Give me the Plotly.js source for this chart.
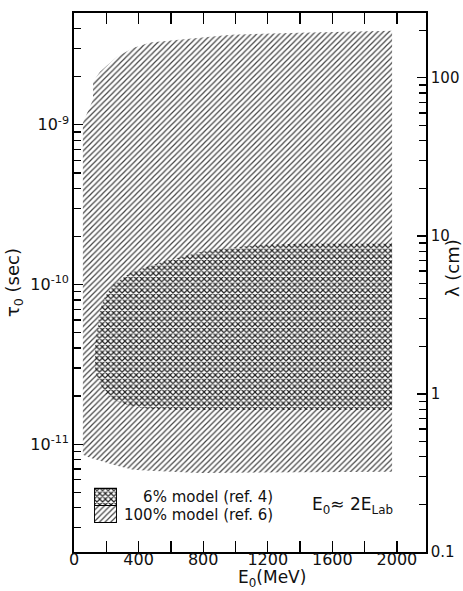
<!DOCTYPE html>
<html>
<head>
<meta charset="utf-8">
<script src="https://cdn.plot.ly/plotly-3.0.1.min.js"></script>
<style>html,body{margin:0;padding:0;background:#fff;}#chart{width:463px;height:591px;}</style>
</head>
<body>
<div id="chart"></div>
<script>
// 100% model (ref. 6) region outline: E0 (MeV) and tau0 (sec)
const hundredE   = [55, 118, 118, 161, 266, 366, 471, 781, 973, 1400, 1970, 1970, 973, 781, 471, 366, 266, 161, 99, 55];
const hundredTau = [1.03e-9, 1.44e-9, 1.86e-9, 2.15e-9, 2.67e-9, 3.03e-9, 3.27e-9, 3.51e-9, 3.66e-9, 3.77e-9, 3.88e-9,
                    6.71e-12, 6.61e-12, 6.61e-12, 6.81e-12, 6.92e-12, 7.33e-12, 7.87e-12, 8.22e-12, 8.59e-12];
// 6% model (ref. 4) region outline
const sixE   = [1970, 1400, 1153, 973, 781, 657, 552, 452, 347, 242, 192, 161, 143, 130, 130, 149, 192, 242, 347, 452, 657, 1970];
const sixTau = [1.80e-10, 1.80e-10, 1.77e-10, 1.70e-10, 1.60e-10, 1.49e-10, 1.39e-10, 1.29e-10, 1.18e-10, 9.95e-11, 8.37e-11,
                6.95e-11, 5.20e-11, 4.07e-11, 2.92e-11, 2.53e-11, 2.10e-11, 1.90e-11, 1.74e-11, 1.67e-11, 1.64e-11, 1.64e-11];

const seriesNames = ['\u2007\u20076% model (ref. 4)', '100% model (ref. 6)'];
const legendKeySize = [1, 1];   // unit height of each key box in the legend inset
const xTickVals = [0, 400, 800, 1200, 1600, 2000];
const xTickText = ['0', '400', '800', '1200', '1600', '2000'];
const tauTickVals = [1e-11, 1e-10, 1e-9];
const tauTickText = ['10<sup>-11</sup>', '10<sup>-10</sup>', '10<sup>-9</sup>'];
const lambdaTickVals = [0.1, 1, 10, 100];
const lambdaTickText = ['0.1', '1', '10', '100'];

const FONT = 'DejaVu Sans, sans-serif';
const TXT = '#111';
const diagPattern = {shape: '/', size: 4, solidity: 0.3, fgcolor: '#444', bgcolor: '#ffffff'};
const crossPattern = {shape: 'x', size: 4, solidity: 0.5, fgcolor: '#222', bgcolor: '#ffffff'};

function minorLog(lo, hi) {
  const v = [];
  for (let d = lo; d <= hi; d++) for (let m = 2; m <= 9; m++) v.push(m * Math.pow(10, d));
  return v;
}

const traces = [
  {type: 'scatter', x: hundredE, y: hundredTau, fill: 'toself', mode: 'lines', name: seriesNames[1],
   line: {width: 0, color: 'rgba(0,0,0,0)'}, fillcolor: '#ffffff', fillpattern: diagPattern,
   showlegend: false, hoverinfo: 'skip'},
  {type: 'scatter', x: sixE, y: sixTau, fill: 'toself', mode: 'lines', name: seriesNames[0],
   line: {width: 0, color: 'rgba(0,0,0,0)'}, fillcolor: '#ffffff', fillpattern: crossPattern,
   showlegend: false, hoverinfo: 'skip'},
  // legend key boxes (stacked, in a small inset axis)
  {type: 'bar', x: [0], y: [legendKeySize[1]], xaxis: 'x3', yaxis: 'y3', width: 1, showlegend: false, hoverinfo: 'skip',
   marker: {color: '#ffffff', pattern: diagPattern, line: {color: '#000', width: 1.6}}},
  {type: 'bar', x: [0], y: [legendKeySize[0]], xaxis: 'x3', yaxis: 'y3', width: 1, showlegend: false, hoverinfo: 'skip',
   marker: {color: '#ffffff', pattern: crossPattern, line: {color: '#000', width: 1.6}}},
  // right axis carrier
  {type: 'scatter', x: [null], y: [null], yaxis: 'y2', showlegend: false, hoverinfo: 'skip'}
];

const layout = {
  width: 463, height: 591,
  margin: {l: 74, r: 37, t: 13, b: 39},
  paper_bgcolor: '#fff', plot_bgcolor: '#fff',
  font: {family: FONT, color: TXT, size: 15},
  showlegend: false,
  barmode: 'stack',
  xaxis: {
    type: 'linear', range: [0, 2180], tickmode: 'array', tickvals: xTickVals, ticktext: xTickText,
    ticks: 'inside', ticklen: 11, tickwidth: 1.3, tickcolor: '#000', ticklabelstandoff: -8,
    minor: {dtick: 200, tick0: 0, ticks: 'inside', ticklen: 7, tickwidth: 1.3, tickcolor: '#000'},
    showline: true, linewidth: 1.8, linecolor: '#000', mirror: 'allticks',
    showgrid: false, zeroline: false, tickfont: {size: 16}
  },
  yaxis: {
    type: 'log', range: [-11.675, -8.3], tickmode: 'array', tickvals: tauTickVals, ticktext: tauTickText,
    ticks: 'inside', ticklen: 9, tickwidth: 1.3, tickcolor: '#000',
    minor: {tickmode: 'array', tickvals: minorLog(-12, -9), ticks: 'inside', ticklen: 7, tickwidth: 1.3, tickcolor: '#000'},
    showline: true, linewidth: 1.8, linecolor: '#000',
    showgrid: false, zeroline: false, tickfont: {size: 16},
    title: {text: '\u03c4<sub>0</sub> (sec)', font: {size: 18}, standoff: 6}
  },
  yaxis2: {
    type: 'log', overlaying: 'y', side: 'right', range: [-1, 2.41],
    tickmode: 'array', tickvals: lambdaTickVals, ticktext: lambdaTickText,
    ticks: 'inside', ticklen: 9, tickwidth: 1.3, tickcolor: '#000',
    minor: {tickmode: 'array', tickvals: minorLog(-1, 2), ticks: 'inside', ticklen: 7, tickwidth: 1.3, tickcolor: '#000'},
    showline: true, linewidth: 1.8, linecolor: '#000',
    showgrid: false, zeroline: false, tickfont: {size: 15}
  },
  xaxis3: {domain: [0.057, 0.122], range: [-0.5, 0.5], visible: false, fixedrange: true},
  yaxis3: {domain: [0.054, 0.119], range: [0, 2], visible: false, fixedrange: true},
  annotations: [
    {text: 'E<sub>0</sub>(MeV)', xref: 'paper', yref: 'paper', x: 0.5625, y: -0.049,
     xanchor: 'center', yanchor: 'middle', showarrow: false, font: {size: 17, family: FONT, color: TXT}},
    {text: '\u03bb (cm)', xref: 'paper', yref: 'paper', x: 1.077, y: 0.527, textangle: -90,
     xanchor: 'center', yanchor: 'middle', showarrow: false, font: {size: 18, family: FONT, color: TXT}},
    {text: 'E<sub>0</sub>\u2248 2E<sub>Lab</sub>', xref: 'paper', yref: 'paper', x: 0.79, y: 0.087,
     xanchor: 'center', yanchor: 'middle', showarrow: false, font: {size: 17, family: FONT, color: TXT}},
    {text: seriesNames[0], xref: 'paper', yref: 'paper', x: 0.136, y: 0.102,
     xanchor: 'left', yanchor: 'middle', showarrow: false, font: {size: 15, family: FONT, color: TXT}},
    {text: seriesNames[1], xref: 'paper', yref: 'paper', x: 0.136, y: 0.0686,
     xanchor: 'left', yanchor: 'middle', showarrow: false, font: {size: 15, family: FONT, color: TXT}}
  ]
};

Plotly.newPlot('chart', traces, layout, {staticPlot: true, displayModeBar: false});
</script>
</body>
</html>
